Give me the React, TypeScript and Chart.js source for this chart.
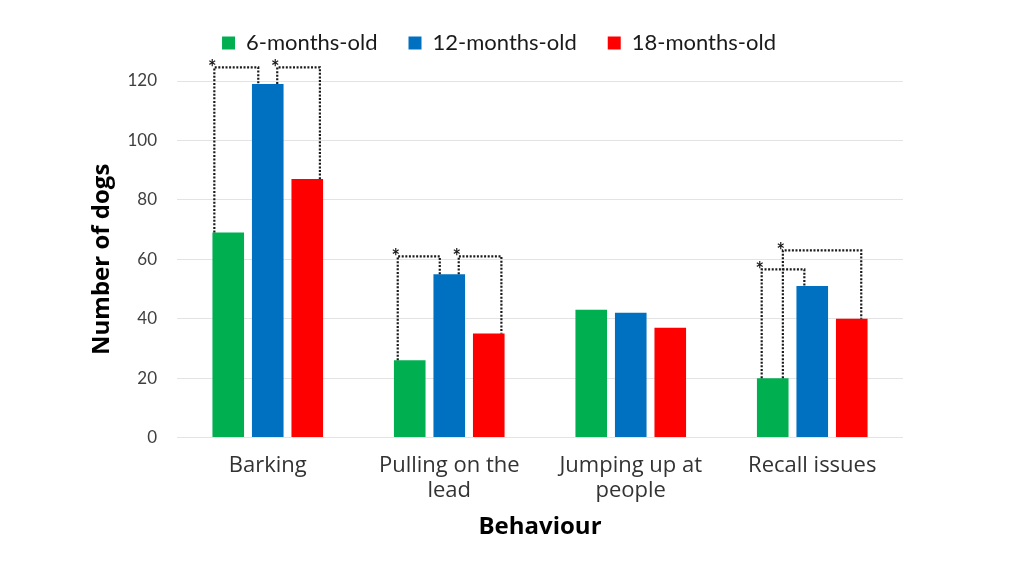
import React, { useEffect, useRef } from "react";
import { Chart, registerables } from "chart.js";

Chart.register(...registerables);

const categories: (string | string[])[] = [
  "Barking",
  ["Pulling on the", "lead"],
  ["Jumping up at", "people"],
  "Recall issues",
];
const seriesNames = ["6-months-old", "12-months-old", "18-months-old"];
const sixMonths = [69, 26, 43, 20];
const twelveMonths = [119, 55, 42, 51];
const eighteenMonths = [87, 35, 37, 40];
const yTicks = [0, 20, 40, 60, 80, 100, 120];

// significance brackets: category index, from series, to series, bracket level (value units)
const bracketCategory = [0, 0, 1, 1, 3, 3];
const bracketFrom = [0, 1, 0, 1, 0, 0];
const bracketTo = [1, 2, 1, 2, 1, 2];
const bracketLevel = [124.6, 124.6, 61, 61, 56.6, 63];
// where on the bar each bracket leg attaches (fraction of bar width)
const bracketFromFrac = [0.06, 0.8, 0.12, 0.8, 0.15, 0.82];
const bracketToFrac = [0.2, 0.9, 0.2, 0.9, 0.25, 0.8];

const colors = ["#00b050", "#0070c0", "#ff0000"];
const FONT = "Lato, 'Noto Sans', sans-serif";
const FONT2 = "'Open Sans', 'Noto Sans', sans-serif";

const legendSpacer = {
  id: "legendSpacer",
  beforeInit(chart: any) {
    const orig = chart.legend.fit;
    chart.legend.fit = function () {
      orig.bind(chart.legend)();
      this.height += 17;
    };
  },
};

const bracketPlugin = {
  id: "brackets",
  afterDatasetsDraw(chart: any) {
    const ctx = chart.ctx;
    const y = chart.scales.y;
    ctx.save();
    ctx.strokeStyle = "#1a1a1a";
    ctx.lineWidth = 2.2;
    ctx.setLineDash([2, 1.6]);
    for (let i = 0; i < bracketCategory.length; i++) {
      const a = chart.getDatasetMeta(bracketFrom[i]).data[bracketCategory[i]];
      const b = chart.getDatasetMeta(bracketTo[i]).data[bracketCategory[i]];
      const x1 = a.x - a.width / 2 + bracketFromFrac[i] * a.width;
      const x2 = b.x - b.width / 2 + bracketToFrac[i] * b.width;
      const yl = y.getPixelForValue(bracketLevel[i]);
      ctx.beginPath();
      ctx.moveTo(x1, a.y);
      ctx.lineTo(x1, yl);
      ctx.lineTo(x2, yl);
      ctx.lineTo(x2, b.y);
      ctx.stroke();
    }
    ctx.setLineDash([]);
    ctx.fillStyle = "#1a1a1a";
    ctx.font = `bold 20px ${FONT}`;
    ctx.textAlign = "center";
    ctx.textBaseline = "alphabetic";
    for (let i = 0; i < bracketCategory.length; i++) {
      const a = chart.getDatasetMeta(bracketFrom[i]).data[bracketCategory[i]];
      const x1 = a.x - a.width / 2 + bracketFromFrac[i] * a.width;
      const yl = y.getPixelForValue(bracketLevel[i]);
      ctx.fillText("*", x1 - 2, yl + 8);
    }
    ctx.restore();
  },
};

export default function App() {
  const ref = useRef<HTMLCanvasElement | null>(null);
  useEffect(() => {
    if (!ref.current) return;
    const series = [sixMonths, twelveMonths, eighteenMonths];
    const chart = new Chart(ref.current, {
      type: "bar",
      data: {
        labels: categories,
        datasets: series.map((d, i) => ({
          label: seriesNames[i],
          data: d,
          backgroundColor: colors[i],
          borderWidth: 0,
          barPercentage: 0.8,
          categoryPercentage: 0.653,
        })),
      },
      options: {
        animation: false,
        responsive: false,
        maintainAspectRatio: false,
        layout: { padding: { left: 95, right: 121, top: 1, bottom: 30 } },
        plugins: {
          legend: {
            position: "top",
            labels: {
              boxWidth: 13,
              boxHeight: 13,
              padding: 31,
              color: "#1a1a1a",
              font: { family: FONT, size: 22 },
            },
          },
          tooltip: { enabled: false },
        },
        scales: {
          x: {
            grid: { display: false },
            border: { display: false },
            ticks: {
              color: "#333",
              font: { family: FONT2, size: 22, lineHeight: 1.15 },
              padding: 7,
              maxRotation: 0,
            },
            title: {
              display: true,
              text: "Behaviour",
              color: "#000",
              font: { family: FONT2, size: 24, weight: "bold" },
              padding: { top: 3, bottom: 4 },
            },
          },
          y: {
            min: 0,
            max: 120,
            afterBuildTicks: (s: any) => {
              s.ticks = yTicks.map((v) => ({ value: v }));
            },
            afterFit: (s: any) => {
              s.width = 82;
            },
            grid: { color: "#e3e3e3", drawTicks: false },
            border: { display: false },
            ticks: {
              color: "#404040",
              font: { family: FONT, size: 17 },
              padding: 20,
            },
            title: {
              display: true,
              text: "Number of dogs",
              color: "#000",
              font: { family: FONT2, size: 24, weight: "bold" },
              padding: { top: -7, bottom: 0 },
            },
          },
        },
      },
      plugins: [bracketPlugin, legendSpacer],
    });
    return () => chart.destroy();
  }, []);
  return (
    <div style={{ position: "absolute", left: 0, top: 0, width: 1024, height: 576, background: "#fff" }}>
      <canvas ref={ref} width={1024} height={576} style={{ width: 1024, height: 576 }} />
    </div>
  );
}
